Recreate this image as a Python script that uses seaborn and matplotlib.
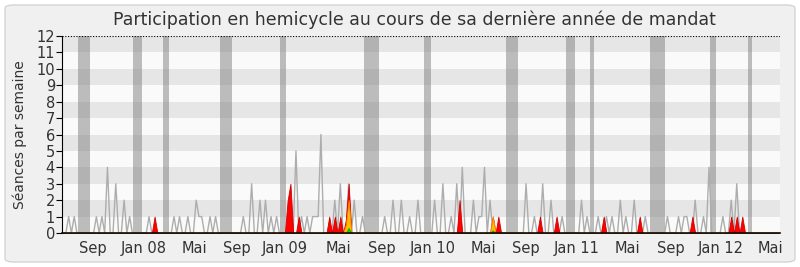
import numpy as np
import pandas as pd
import matplotlib
matplotlib.use("Agg")
import matplotlib.pyplot as plt
import seaborn as sns
from matplotlib.patches import FancyBboxPatch

# ---------------- data ----------------
title = "Participation en hemicycle au cours de sa dernière année de mandat"
y_label = "Séances par semaine"

# weekly median presence (grey line), weeks 0..258
median_presence = [
    0, 0, 1, 0, 1, 0, 0, 0, 0, 0,
    0, 0, 1, 0, 1, 0, 4, 0, 0, 3,
    0, 0, 2, 0, 1, 0, 0, 0, 0, 0,
    0, 1, 0, 0, 0, 0, 0, 0, 0, 0,
    1, 0, 1, 0, 0, 1, 0, 0, 2, 1,
    1, 0, 0, 1, 0, 1, 0, 0, 0, 0,
    0, 0, 0, 0, 0, 1, 0, 0, 3, 0,
    0, 2, 0, 2, 0, 1, 0, 1, 0, 0,
    0, 0, 0, 0, 5, 0, 1, 0, 1, 0,
    1, 1, 1, 6, 0, 0, 0, 0, 2, 0,
    3, 0, 0, 3, 0, 2, 0, 0, 1, 0,
    0, 0, 0, 0, 0, 0, 1, 0, 0, 2,
    0, 0, 2, 0, 0, 1, 0, 0, 2, 0,
    0, 0, 0, 0, 2, 0, 0, 3, 0, 0,
    1, 0, 3, 0, 4, 0, 0, 0, 2, 0,
    1, 1, 4, 0, 2, 0, 0, 0, 0, 0,
    0, 0, 0, 0, 0, 0, 0, 3, 0, 0,
    1, 0, 0, 3, 0, 0, 2, 0, 0, 0,
    1, 0, 0, 0, 0, 0, 0, 2, 0, 1,
    0, 0, 0, 1, 0, 0, 1, 0, 1, 0,
    0, 2, 0, 1, 0, 0, 2, 0, 0, 0,
    1, 0, 0, 0, 0, 0, 0, 0, 1, 0,
    0, 0, 1, 0, 1, 1, 0, 0, 2, 0,
    0, 1, 0, 4, 0, 0, 0, 0, 1, 0,
    0, 2, 0, 3, 0, 0, 0, 0, 0, 0,
    0, 0, 0, 0, 0, 0, 0, 0, 0,
]

# deputy activity (weeks with non-zero values)
presence_weeks = [33, 81, 82, 85, 96, 98, 100, 102, 103, 143, 155, 157, 172, 178, 195, 208, 227, 241, 243, 245]
presence_values = [1, 2, 3, 1, 1, 1, 1, 0.8, 3, 2, 1, 1, 1, 1, 1, 1, 1, 1, 1, 1]
interv_weeks = [102, 103, 155]
interv_values = [0.5, 2, 1]
question_weeks = [103, 155]
question_values = [0.3, 0.15]

# parliamentary vacations (in weeks)
vacation_start = [5.4, 25.2, 36.0, 56.6, 78.2, 108.5, 130.2, 159.8, 181.4, 190.1, 211.7, 233.4, 247.1]
vacation_end = [9.7, 28.5, 38.2, 60.9, 80.4, 114.0, 132.7, 164.1, 184.7, 191.6, 217.1, 235.5, 248.5]

tick_labels = ["Sep", "Jan 08", "Mai", "Sep", "Jan 09", "Mai", "Sep", "Jan 10",
               "Mai", "Sep", "Jan 11", "Mai", "Sep", "Jan 12", "Mai"]
tick_weeks = [10.7, 29.2, 47.2, 62.7, 80.0, 99.2, 115.0, 133.4,
              151.6, 167.0, 185.4, 203.4, 219.3, 237.3, 255.0]

# ---------------- build ----------------
n = len(median_presence)
weeks = np.arange(n)
def dense(ws, vs):
    arr = np.zeros(n)
    arr[ws] = vs
    return arr

df = pd.DataFrame({
    "week": weeks,
    "median": median_presence,
    "presence": dense(presence_weeks, presence_values),
    "interv": dense(interv_weeks, interv_values),
    "questions": dense(question_weeks, question_values),
})

sns.set_theme(style="white")
plt.rcParams["font.family"] = ["DejaVu Sans"]
text_color = "#333333"

fig = plt.figure(figsize=(8, 2.67), dpi=100, facecolor="white")
bg = FancyBboxPatch((5 / 800, 5 / 267), 790 / 800, 257 / 267,
                    boxstyle="round,pad=0,rounding_size=0.012",
                    transform=fig.transFigure, facecolor="#f0f0f0",
                    edgecolor="#d4d4d4", linewidth=1, zorder=-10)
fig.patches.append(bg)
ax = fig.add_axes([62 / 800, 1 - 233 / 267, 718 / 800, 197 / 267])
ax.set_zorder(5)
ax.set_facecolor("none")

# stripes
for k in range(12):
    ax.axhspan(k, k + 1, color="#e6e6e6" if k % 2 == 1 else "#fafafa", lw=0, zorder=0)
# vacations
for s, e in zip(vacation_start, vacation_end):
    ax.axvspan(s, e, color="#808080", alpha=0.5, lw=0, zorder=1)

sns.lineplot(data=df, x="week", y="median", color="#adadad", lw=1.0, ax=ax, zorder=2)
ax.fill_between(df["week"], 0, df["presence"], facecolor="#ff0000", edgecolor="#d00000", lw=0.6, zorder=3)
ax.fill_between(df["week"], 0, df["interv"], facecolor="#ffbb00", edgecolor="#ff8800", lw=0.6, zorder=4)
ax.fill_between(df["week"], 0, df["questions"], facecolor="#00dd00", edgecolor="#00aa00", lw=0.6, zorder=5)

ax.axhline(12, color="black", lw=0.8, ls=(0, (1, 1.5)), zorder=6)

ax.set_xlim(-0.4, 258.6)
ax.set_ylim(0, 12)
ax.set_yticks(range(13))
ax.set_yticklabels([str(i) for i in range(13)], fontsize=10.5, color=text_color)
ax.set_xticks(tick_weeks)
ax.set_xticklabels(tick_labels, fontsize=10.5, color=text_color)
ax.tick_params(axis="y", length=4, width=0.8, color="black", pad=1, left=True)
ax.tick_params(axis="x", length=0, pad=6)
ax.set_xlabel("")
ax.set_ylabel(y_label, fontsize=10, color=text_color, labelpad=7)
for side in ["top", "right"]:
    ax.spines[side].set_visible(False)
ax.spines["left"].set_color("black")
ax.spines["left"].set_linewidth(0.8)
ax.spines["bottom"].set_color("#220000")
ax.spines["bottom"].set_linewidth(1.2)
ax.spines["bottom"].set_zorder(7)

fig.text(414 / 800, 1 - 20 / 267, title, ha="center", va="center", fontsize=12.5, color=text_color)

fig.savefig("out.png", dpi=100, facecolor="white")
